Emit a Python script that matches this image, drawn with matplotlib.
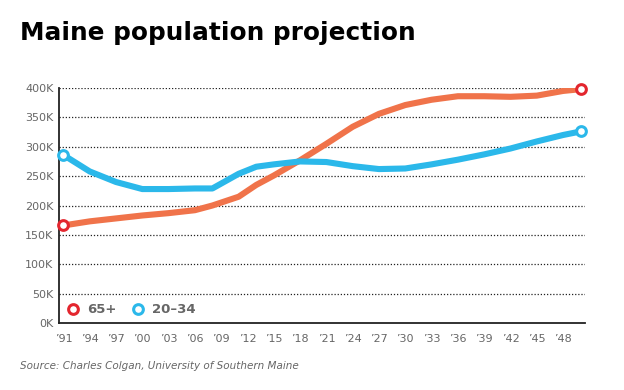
import matplotlib
matplotlib.use("Agg")
import matplotlib.pyplot as plt

years = [1991, 1994, 1997, 2000, 2003, 2006, 2008, 2011, 2013, 2015, 2018, 2021, 2024, 2027,
         2030, 2033, 2036, 2039, 2042, 2045, 2048, 2050]
age65 = [166, 173, 178, 183, 187, 192, 200, 215, 235, 251, 277, 305, 334, 356,
         371, 380, 386, 386, 385, 387, 395, 398]
age20_34 = [286, 258, 240, 228, 228, 229, 229, 254, 266, 270, 275, 274, 267, 262,
            263, 270, 278, 287, 297, 309, 320, 326]
xtick_years = list(range(1991, 2049, 3))
xtick_labels = ["\u2019" + str(y)[2:] for y in xtick_years]
ytick_vals = [0, 50, 100, 150, 200, 250, 300, 350, 400]
ytick_labels = [f"{v}K" for v in ytick_vals]

c65_line = "#f0734a"
c65_mark = "#e3262e"
c20 = "#2bb8ea"
gray = "#666666"

fig = plt.figure(figsize=(6.24, 3.9), dpi=100)
ax = fig.add_axes([59/624, 1-323/390, (585-59)/624, (323-88)/390])

ax.set_xlim(1990.5, 2050.5)
ax.set_ylim(0, 400)

for v in ytick_vals[1:]:
    ax.axhline(v, color="#222222", linestyle=(0, (1, 1.5)), linewidth=0.9, zorder=1)

ax.plot(years, age65, color=c65_line, linewidth=4.4, solid_capstyle="round",
        solid_joinstyle="round", zorder=3)
ax.plot(years, age20_34, color=c20, linewidth=4.4, solid_capstyle="round",
        solid_joinstyle="round", zorder=3)
for ys, mc in ((age65, c65_mark), (age20_34, c20)):
    ax.plot([years[0], years[-1]], [ys[0], ys[-1]], linestyle="none", marker="o",
            markersize=7, markerfacecolor="white", markeredgecolor=mc,
            markeredgewidth=2.2, zorder=4, clip_on=False)

ax.set_xticks(xtick_years)
ax.set_xticklabels(xtick_labels)
ax.set_yticks(ytick_vals)
ax.set_yticklabels(ytick_labels)
ax.tick_params(axis="both", length=0, labelsize=8, labelcolor=gray)
ax.tick_params(axis="x", pad=8)
ax.tick_params(axis="y", pad=4)

for s in ("top", "right"):
    ax.spines[s].set_visible(False)
for s in ("left", "bottom"):
    ax.spines[s].set_color("#222222")
    ax.spines[s].set_linewidth(1.3)

# legend
leg_y = 23
ax.plot([1992.1], [leg_y], marker="o", markersize=7, markerfacecolor="white",
        markeredgecolor=c65_mark, markeredgewidth=2.2, linestyle="none")
ax.text(1993.7, leg_y, "65+", color=gray, fontsize=9.5, fontweight="bold", va="center")
ax.plot([1999.5], [leg_y], marker="o", markersize=7, markerfacecolor="white",
        markeredgecolor=c20, markeredgewidth=2.2, linestyle="none")
ax.text(2001.1, leg_y, "20\u201334", color=gray, fontsize=9.5, fontweight="bold", va="center")

fig.text(20/624, 1-40/390, "Maine population projection", fontsize=17.8,
         fontweight="bold", color="black", va="baseline")
fig.text(20/624, 1-366/390, "Source: Charles Colgan, University of Southern Maine",
         fontsize=7.5, style="italic", color=gray, va="center")

fig.savefig("out.png", dpi=100)
